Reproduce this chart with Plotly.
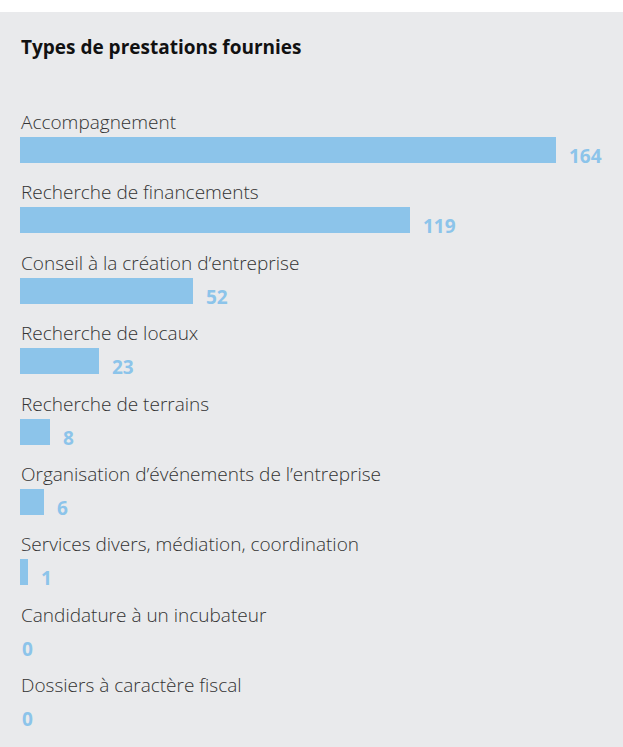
import plotly.graph_objects as go

categories = [
    "Accompagnement",
    "Recherche de financements",
    "Conseil à la création d’entreprise",
    "Recherche de locaux",
    "Recherche de terrains",
    "Organisation d’événements de l’entreprise",
    "Services divers, médiation, coordination",
    "Candidature à un incubateur",
    "Dossiers à caractère fiscal",
]
values = [164, 119, 52, 23, 8, 6, 1, 0, 0]
title_text = "Types de prestations fournies"

W, H = 623, 747
TOP = 12
ROW = 70.4
FIRST = 138  # plot-pixel centre of first bar
BAR_PX = 26
X0_PX = 20
OFFSET = 1.4            # small visual lead-in the source gives to non-zero bars
SCALE = 536 / (164 + OFFSET)

BG = "#e9eaec"
BAR = "#8cc4ea"
VAL = "#8cc4ea"
TXT = "#333333"

idx = list(range(len(categories)))
plot_h = H - TOP
y_range = [(plot_h - FIRST) / ROW, -FIRST / ROW]
x_lo = -OFFSET - X0_PX / SCALE
x_range = [x_lo, x_lo + W / SCALE]

bar_len = [v + OFFSET if v > 0 else 0 for v in values]
bar_base = [-OFFSET] * len(values)

fig = go.Figure()
fig.add_trace(go.Bar(
    x=bar_len, y=idx, base=bar_base, orientation="h",
    width=BAR_PX / ROW,
    marker=dict(color=BAR, line=dict(width=0)),
    hoverinfo="skip",
))

ann = []
for i, (c, v) in enumerate(zip(categories, values)):
    ann.append(dict(
        x=-OFFSET, y=i - 28 / ROW, xref="x", yref="y", text=c, showarrow=False,
        xanchor="left", yanchor="middle", xshift=-1,
        font=dict(family="Open Sans", size=19, color=TXT, weight=300),
    ))
    ann.append(dict(
        x=v if v > 0 else -OFFSET, y=i + 6 / ROW, xref="x", yref="y", text=str(v),
        showarrow=False, xanchor="left", yanchor="middle",
        xshift=11 if v > 0 else 0,
        font=dict(family="Open Sans", size=19, color=VAL, weight=700),
    ))
ann.append(dict(
    x=X0_PX / W, y=1 - (47 - TOP) / plot_h, xref="paper", yref="paper",
    text=title_text, showarrow=False, xanchor="left", yanchor="middle", xshift=-1,
    font=dict(family="Open Sans", size=19, color="#111111", weight=700),
))

fig.update_layout(
    width=W, height=H,
    margin=dict(l=0, r=0, t=TOP, b=0),
    paper_bgcolor=BG, plot_bgcolor=BG,
    showlegend=False,
    xaxis=dict(range=x_range, visible=False, fixedrange=True),
    yaxis=dict(range=y_range, visible=False, fixedrange=True),
    annotations=ann,
    shapes=[dict(type="rect", xref="paper", yref="paper", x0=0, x1=1,
                 y0=1, y1=1 + (TOP + 2) / plot_h, fillcolor="white",
                 line=dict(width=0), layer="above")],
    bargap=0,
)
fig.write_html(
    "out.html",
    config={"displayModeBar": False},
    post_script="document.body.style.margin='0';document.body.style.overflow='hidden';document.body.style.background='#e9eaec';",
)
